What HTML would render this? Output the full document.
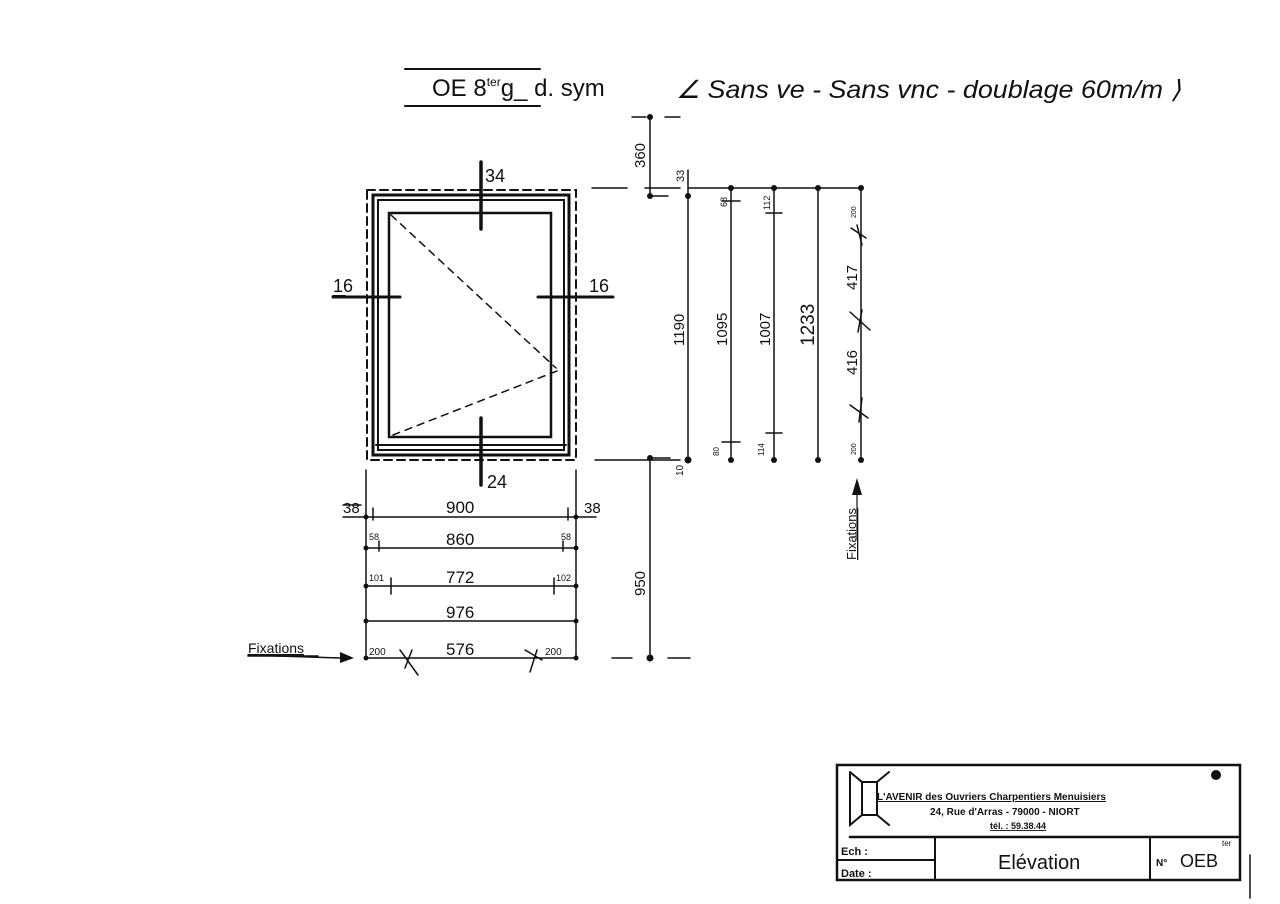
<!DOCTYPE html>
<html><head><meta charset="utf-8"><style>
html,body{margin:0;padding:0;background:#fff;}
svg{display:block;}
text{font-family:"Liberation Sans",sans-serif;fill:#111;}
</style></head><body>
<svg width="1280" height="904" viewBox="0 0 1280 904" xmlns="http://www.w3.org/2000/svg">
<rect width="1280" height="904" fill="#fff"/>
<g stroke="#111" fill="none" stroke-linecap="round">
<line x1="405" y1="69" x2="540" y2="69" stroke-width="2"/>
<line x1="405" y1="106" x2="540" y2="106" stroke-width="2"/>
<rect x="367" y="190" width="209" height="270" stroke-width="2" stroke-dasharray="8,5"/>
<rect x="373" y="195" width="196" height="260" stroke-width="3"/>
<rect x="378" y="200" width="186" height="250" stroke-width="2"/>
<line x1="376" y1="445" x2="566" y2="445" stroke-width="2"/>
<rect x="389" y="213" width="162" height="224" stroke-width="2.5"/>
<path d="M391 215 L556 368 M393 435 L557 371" stroke-width="1.5" stroke-dasharray="7,6"/>
<line x1="481" y1="162" x2="481" y2="229" stroke-width="3.5"/>
<line x1="481" y1="418" x2="481" y2="485" stroke-width="3.5"/>
<line x1="333" y1="297" x2="400" y2="297" stroke-width="3"/>
<line x1="538" y1="297" x2="613" y2="297" stroke-width="3"/>
<line x1="333" y1="296" x2="345" y2="296" stroke-width="2"/>
<path d="M592 188 L627 188 M645 188 L680 188 M595 460 L680 460 M612 658 L632 658 M668 658 L690 658 M632 117 L646 117 M665 117 L680 117" stroke-width="1.5"/>
<path d="M650 117 L650 196 L668 196 M650 458 L650 658 M650 458 L670 458" stroke-width="1.5"/>
<path d="M688 170 L688 460 M731 188 L731 460 M774 188 L774 460 M818 188 L818 460 M861 188 L861 460 M688 188 L861 188" stroke-width="1.5"/>
<path d="M722 201 L740 201 M722 442 L740 442 M766 213 L782 213 M766 433 L782 433" stroke-width="1.5"/>
<path d="M851 228 L866 238 M857 225 L862 245 M850 312 L870 330 M862 310 L858 332 M850 405 L868 418 M862 398 L859 422" stroke-width="1.5"/>
<path d="M366 470 L366 658 M576 470 L576 658" stroke-width="1.5"/>
<path d="M343 517 L596 517 M366 548 L576 548 M366 586 L576 586 M366 621 L576 621 M366 658 L576 658" stroke-width="1.5"/>
<path d="M373 508 L373 520 M568 508 L568 520 M379 541 L379 551 M563 541 L563 551 M391 578 L391 594 M554 578 L554 594" stroke-width="1.5"/>
<line x1="343" y1="505" x2="361" y2="505" stroke-width="1.5"/>
<path d="M400 650 L418 675 M412 650 L405 668 M537 650 L530 672 M525 650 L542 660" stroke-width="1.5"/>
<line x1="248" y1="655" x2="340" y2="658" stroke-width="1.5"/>
<line x1="248" y1="656" x2="318" y2="656" stroke-width="1.5"/>
<line x1="857" y1="495" x2="857" y2="540" stroke-width="1.2"/>
<rect x="837" y="765" width="403" height="115" stroke-width="2.5"/>
<line x1="850" y1="837" x2="1238" y2="837" stroke-width="2.5"/>
<line x1="837" y1="860" x2="935" y2="860" stroke-width="2"/>
<line x1="935" y1="837" x2="935" y2="880" stroke-width="2"/>
<line x1="1150" y1="837" x2="1150" y2="880" stroke-width="2"/>
<path d="M850 772 L862 782 L877 782 L889 772 M850 772 L850 825 L862 815 L877 815 L889 825 M862 782 L862 815 M877 782 L877 815" stroke-width="2"/>
<line x1="1250" y1="855" x2="1250" y2="898" stroke-width="1.5"/>
</g>
<g fill="#111">
<circle cx="688" cy="196" r="3"/><circle cx="688" cy="460" r="3.5"/><circle cx="650" cy="117" r="3"/><circle cx="650" cy="196" r="3"/>
<circle cx="650" cy="458" r="3"/><circle cx="650" cy="658" r="3.5"/>
<circle cx="731" cy="188" r="3"/><circle cx="774" cy="188" r="3"/><circle cx="818" cy="188" r="3"/><circle cx="861" cy="188" r="3"/>
<circle cx="731" cy="460" r="3"/><circle cx="774" cy="460" r="3"/><circle cx="818" cy="460" r="3"/><circle cx="861" cy="460" r="3"/>
<circle cx="366" cy="517" r="2.5"/><circle cx="576" cy="517" r="2.5"/><circle cx="366" cy="548" r="2.5"/><circle cx="576" cy="548" r="2.5"/>
<circle cx="366" cy="586" r="2.5"/><circle cx="576" cy="586" r="2.5"/><circle cx="366" cy="621" r="2.5"/><circle cx="576" cy="621" r="2.5"/>
<circle cx="366" cy="658" r="2.5"/><circle cx="576" cy="658" r="2.5"/>
<polygon points="340,652 354,658 340,663"/>
<polygon points="852,495 857,478 862,495"/>
<circle cx="1216" cy="775" r="5"/>
</g>
<g font-size="22">
<text x="432" y="96" font-size="24">OE 8<tspan font-size="12" dy="-10">ter</tspan><tspan dy="10">g_ d. sym</tspan></text>
<text x="676" y="98" font-size="25" font-style="italic" textLength="505" lengthAdjust="spacingAndGlyphs">∠ Sans ve - Sans vnc - doublage 60m/m ⟩</text>
<text x="485" y="182" font-size="18">34</text>
<text x="487" y="488" font-size="18">24</text>
<text x="333" y="292" font-size="18">16</text>
<text x="589" y="292" font-size="18">16</text>
<text x="446" y="513" font-size="17">900</text>
<text x="343" y="513" font-size="15">38</text>
<text x="584" y="513" font-size="15">38</text>
<text x="446" y="545" font-size="17">860</text>
<text x="369" y="540" font-size="9">58</text>
<text x="561" y="540" font-size="9">58</text>
<text x="446" y="583" font-size="17">772</text>
<text x="369" y="581" font-size="9">101</text>
<text x="556" y="581" font-size="9">102</text>
<text x="446" y="618" font-size="17">976</text>
<text x="446" y="655" font-size="17">576</text>
<text x="369" y="655" font-size="10">200</text>
<text x="545" y="655" font-size="10">200</text>
<text x="248" y="653" font-size="14" text-decoration="underline">Fixations</text>
<g font-size="15">
<text transform="translate(645,168) rotate(-90)">360</text>
<text transform="translate(645,596) rotate(-90)">950</text>
<text transform="translate(684,346) rotate(-90)">1190</text>
<text transform="translate(727,346) rotate(-90)">1095</text>
<text transform="translate(770,346) rotate(-90)">1007</text>
<text transform="translate(814,346) rotate(-90)" font-size="19">1233</text>
<text transform="translate(857,290) rotate(-90)">417</text>
<text transform="translate(857,375) rotate(-90)">416</text>
<text transform="translate(684,182) rotate(-90)" font-size="11">33</text>
<text transform="translate(727,207) rotate(-90)" font-size="9">68</text>
<text transform="translate(770,210) rotate(-90)" font-size="9">112</text>
<text transform="translate(856,218) rotate(-90)" font-size="7">200</text>
<text transform="translate(856,455) rotate(-90)" font-size="7">200</text>
<text transform="translate(719,456) rotate(-90)" font-size="8">80</text>
<text transform="translate(764,456) rotate(-90)" font-size="8">114</text>
<text transform="translate(683,476) rotate(-90)" font-size="10">10</text>
<text transform="translate(856,560) rotate(-90)" font-size="13" text-decoration="underline">Fixations</text>
</g>
<text x="877" y="800" font-size="10" font-weight="bold" text-decoration="underline">L'AVENIR  des Ouvriers  Charpentiers  Menuisiers</text>
<text x="930" y="815" font-size="10" font-weight="bold">24, Rue d'Arras - 79000 - NIORT</text>
<text x="990" y="829" font-size="9" font-weight="bold" text-decoration="underline">tél. : 59.38.44</text>
<text x="841" y="855" font-size="11" font-weight="bold">Ech :</text>
<text x="841" y="877" font-size="11" font-weight="bold">Date :</text>
<text x="998" y="869" font-size="20">Elévation</text>
<text x="1156" y="866" font-size="10" font-weight="bold">N°</text>
<text x="1180" y="867" font-size="18">OEB</text>
<text x="1222" y="846" font-size="8">ter</text>
</g>
</svg>
</body></html>
